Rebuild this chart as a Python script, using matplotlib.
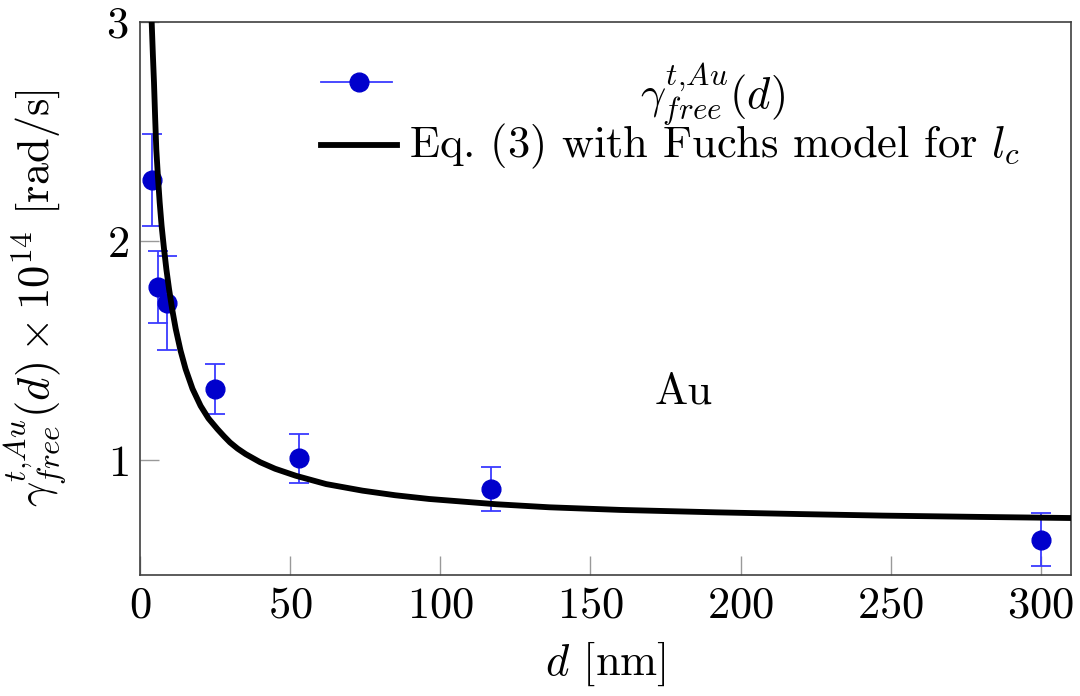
#!/usr/bin/env python3
"""Au free-electron damping vs film thickness, with the Fuchs-model curve."""
import matplotlib
matplotlib.use("Agg")
import matplotlib.pyplot as plt
from matplotlib.lines import Line2D

plt.rcParams["font.family"] = "cmr10"
plt.rcParams["mathtext.fontset"] = "cm"
plt.rcParams["axes.formatter.use_mathtext"] = True
plt.rcParams["font.size"] = 32

d_meas = [3.9, 6.0, 8.9, 24.9, 53.0, 116.9, 300.2]
gamma_meas = [2.28, 1.79, 1.715, 1.323, 1.007, 0.868, 0.636]
gamma_err = [0.21, 0.165, 0.215, 0.115, 0.11, 0.10, 0.12]

# model curve, sampled from the figure
d_model = [3.7, 3.9, 4.3, 4.67, 5.05, 5.43, 6.0, 6.56, 7.2, 8.0, 8.8, 9.67,
           10.7, 11.9, 13.5, 15.2, 17.5, 20.2, 22.8, 25.8, 28.0, 30.0, 32.5,
           35.2, 40.0, 45.0, 51.9, 62.0, 74.1, 85.0, 96.3, 118.6, 136.3,
           160.0, 191.9, 220.0, 247.4, 280.0, 310.0]
gamma_model = [3.1, 3.0, 2.85, 2.724, 2.565, 2.42, 2.29, 2.177, 2.07, 1.965,
               1.87, 1.782, 1.69, 1.599, 1.50, 1.415, 1.325, 1.247, 1.19,
               1.141, 1.108, 1.08, 1.052, 1.027, 0.99, 0.96, 0.928, 0.89,
               0.860, 0.839, 0.822, 0.798, 0.784, 0.772, 0.761, 0.753, 0.746,
               0.740, 0.735]

xticks = [0, 50, 100, 150, 200, 250, 300]
yticks = [1, 2, 3]

BLUE = "#0000cc"
EBLUE = "#3a3aff"

fig = plt.figure(figsize=(10.8, 6.96), dpi=100)
ax = fig.add_axes([0.1296, 0.1739, 0.8620, 0.7945])

ax.errorbar(d_meas, gamma_meas, yerr=gamma_err, fmt="o", color=BLUE,
            markersize=13.5, ecolor=EBLUE, elinewidth=1.3, capsize=7,
            capthick=1.3, zorder=2)
ax.plot(d_model, gamma_model, color="black", lw=4.2, zorder=3,
        solid_joinstyle="round")

ax.set_xlim(0, 310)
ax.set_ylim(0.475, 3)
ax.set_xticks(xticks)
ax.set_yticks(yticks)
ax.tick_params(direction="in", length=13.5, width=1, color="#999999",
               top=False, right=False, pad=8)
for s in ax.spines.values():
    s.set_color("#404040")
    s.set_linewidth(1.2)

ax.set_xlabel(r"$d$ [nm]", labelpad=10)
ax.set_ylabel(r"$\gamma^{t{,}Au}_{free}(d)\times10^{14}$ [rad/s]")
ax.yaxis.set_label_coords(-0.077, 0.5)

ax.text(181, 1.26, "Au", ha="center", va="baseline")

# legend drawn by hand (first label is centred in pgfplots style)
ax.add_line(Line2D([0.194, 0.271], [0.8915, 0.8915], transform=ax.transAxes,
                   color=EBLUE, lw=1.3, clip_on=False))
ax.add_line(Line2D([0.2355], [0.8915], transform=ax.transAxes, marker="o",
                   color=BLUE, markersize=13.5, clip_on=False))
ax.text(0.615, 0.8445, r"$\gamma^{t{,}Au}_{free}(d)$", transform=ax.transAxes,
        ha="center", va="baseline")
ax.add_line(Line2D([0.194, 0.276], [0.7776, 0.7776], transform=ax.transAxes,
                   color="black", lw=4.2, clip_on=False))
ax.text(0.289, 0.756, r"Eq. (3) with Fuchs model for $l_c$",
        transform=ax.transAxes, ha="left", va="baseline")

fig.savefig("out.png", dpi=100)
